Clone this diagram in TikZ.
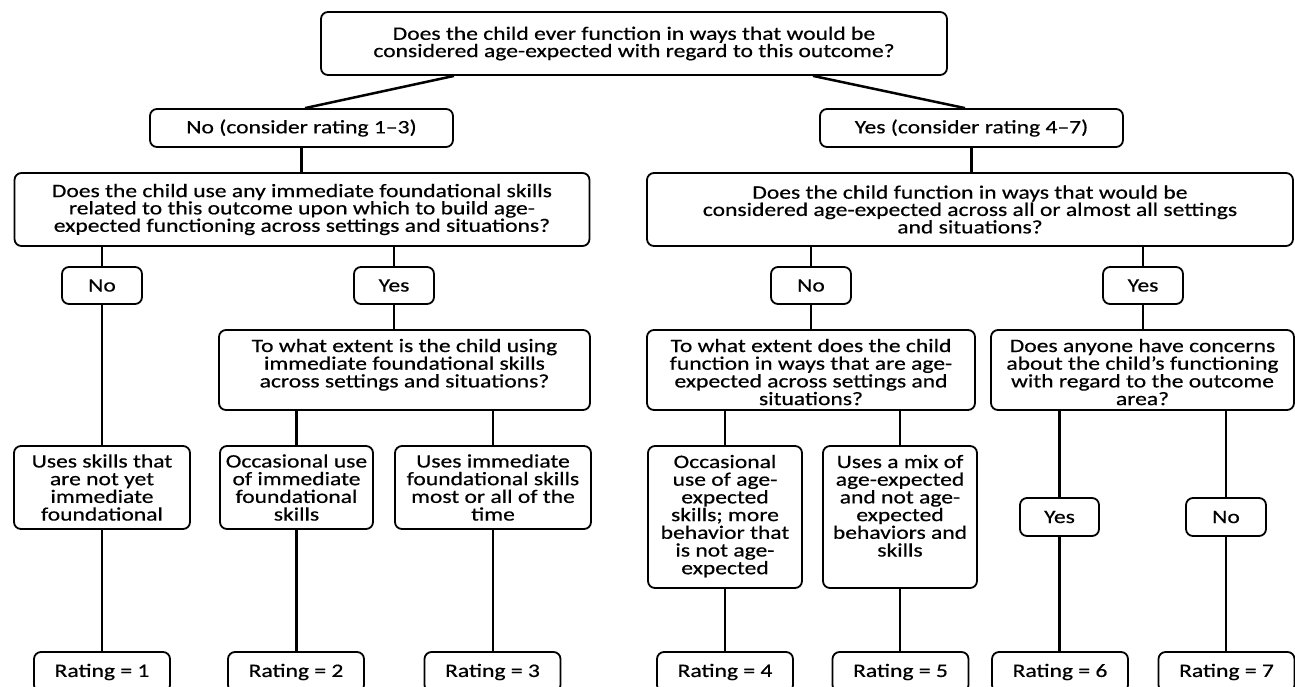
\documentclass[tikz,border=0pt]{standalone}
\usepackage{fontspec}
\setmainfont{Carlito}[FakeStretch=1.24,FakeBold=0.5]
\usetikzlibrary{calc}
\newcommand{\cbx}[3]{\parbox[c][#2][c]{#1}{\centering #3\par}}
\newcommand{\tbx}[3]{\parbox[c][#2][t]{#1}{\centering\rule{0pt}{22pt}#3\par}}
\tikzset{
  box/.style={draw, line width=1.8pt, rounded corners=7pt, inner sep=0pt,
    font=\fontsize{19}{17.7}\selectfont},
  conn/.style={line width=2.5pt}
}
\begin{document}
\begin{tikzpicture}[x=1pt,y=-1pt]
\useasboundingbox (0,0) rectangle (1295,686);
\clip (0,0) rectangle (1295,686);
% row 1-2
\node[box] (top) at (634,43.5) {\cbx{626pt}{63pt}{\fontsize{19}{15}\selectfont Does the child ever function in ways that would be\\considered age-expected with regard to this outcome?}};
\node[box] (no13) at (301.5,128) {\cbx{303pt}{38pt}{No (consider rating 1–3)}};
\node[box] (yes47) at (971.5,128) {\cbx{303pt}{38pt}{Yes (consider rating 4–7)}};
% row 3
\node[box] (qL) at (302,209.5) {\cbx{575pt}{73pt}{\fontsize{19}{16}\selectfont Does the child use any immediate foundational skills\\related to this outcome upon which to build age-\\expected functioning across settings and situations?}};
\node[box] (qR) at (970,209.5) {\cbx{646pt}{73pt}{\fontsize{19}{16}\selectfont Does the child function in ways that would be\\considered age-expected across all or almost all settings\\and situations?}};
% row 4
\node[box] (noL) at (102,285.5) {\cbx{80pt}{37pt}{No}};
\node[box] (yesL) at (394,285.5) {\cbx{80pt}{37pt}{Yes}};
\node[box] (noR) at (811,285.5) {\cbx{80pt}{37pt}{No}};
\node[box] (yesR) at (1143,285.5) {\cbx{80pt}{37pt}{Yes}};
% row 5
\node[box] (q2) at (404.5,370) {\tbx{371pt}{80pt}{To what extent is the child using\\immediate foundational skills\\across settings and situations?}};
\node[box] (q3) at (811,370) {\tbx{328pt}{80pt}{To what extent does the child\\function in ways that are age-\\expected across settings and\\situations?}};
\node[box] (q4) at (1142.5,370) {\tbx{303pt}{80pt}{Does anyone have concerns\\about the child’s functioning\\with regard to the outcome\\area?}};
% row 6
\node[box] (leaf1) at (102,487.5) {\cbx{176pt}{83pt}{Uses skills that\\are not yet\\immediate\\foundational}};
\node[box] (leaf2) at (296.5,487.5) {\cbx{153pt}{83pt}{Occasional use\\of immediate\\foundational\\skills}};
\node[box] (leaf3) at (493,487.5) {\cbx{196pt}{83pt}{Uses immediate\\foundational skills\\most or all of the\\time}};
\node[box] (leaf4) at (725,517) {\tbx{154pt}{142pt}{Occasional\\use of age-\\expected\\skills; more\\behavior that\\is not age-\\expected}};
\node[box] (leaf5) at (900,517) {\tbx{154pt}{142pt}{Uses a mix of\\age-expected\\and not age-\\expected\\behaviors and\\skills}};
\node[box] (yes6) at (1059.5,517) {\cbx{79pt}{38pt}{Yes}};
\node[box] (no7) at (1226,517) {\cbx{80pt}{38pt}{No}};
% row 7
\node[box] (r1) at (102,672) {\cbx{136pt}{40pt}{Rating = 1}};
\node[box] (r2) at (296,672) {\cbx{136pt}{40pt}{Rating = 2}};
\node[box] (r3) at (492.5,672) {\cbx{136pt}{40pt}{Rating = 3}};
\node[box] (r4) at (725,672) {\cbx{136pt}{40pt}{Rating = 4}};
\node[box] (r5) at (900.5,672) {\cbx{136pt}{40pt}{Rating = 5}};
\node[box] (r6) at (1060,672) {\cbx{136pt}{40pt}{Rating = 6}};
\node[box] (r7) at (1226.5,672) {\cbx{136pt}{40pt}{Rating = 7}};
% connectors
\draw[conn] ([xshift=-180pt]top.south) -- ([xshift=3.5pt]no13.north);
\draw[conn] ([xshift=179pt]top.south) -- ([xshift=-6.5pt]yes47.north);
\draw[conn] (no13.south) -- (no13.south |- qL.north);
\draw[conn] (yes47.south) -- (yes47.south |- qR.north);
\draw[conn] (noL.north |- qL.south) -- (noL.north);
\draw[conn] (yesL.north |- qL.south) -- (yesL.north);
\draw[conn] (noL.south) -- (leaf1.north);
\draw[conn] (yesL.south) -- (yesL.south |- q2.north);
\draw[conn] (leaf2.north |- q2.south) -- (leaf2.north);
\draw[conn] (leaf3.north |- q2.south) -- (leaf3.north);
\draw[conn] (leaf1.south) -- (r1.north);
\draw[conn] (leaf2.south) -- (leaf2.south |- r2.north);
\draw[conn] (leaf3.south) -- (leaf3.south |- r3.north);
\draw[conn] (noR.north |- qR.south) -- (noR.north);
\draw[conn] (yesR.north |- qR.south) -- (yesR.north);
\draw[conn] (noR.south) -- (q3.north);
\draw[conn] (yesR.south) -- (yesR.south |- q4.north);
\draw[conn] (leaf4.north |- q3.south) -- (leaf4.north);
\draw[conn] (leaf5.north |- q3.south) -- (leaf5.north);
\draw[conn] (leaf4.south) -- (r4.north);
\draw[conn] (leaf5.south) -- (leaf5.south |- r5.north);
\draw[conn] (yes6.north |- q4.south) -- (yes6.north);
\draw[conn] (yes6.south) -- (yes6.south |- r6.north);
\draw[conn] (no7.north |- q4.south) -- (no7.north);
\draw[conn] (no7.south) -- (no7.south |- r7.north);
\end{tikzpicture}
\end{document}
